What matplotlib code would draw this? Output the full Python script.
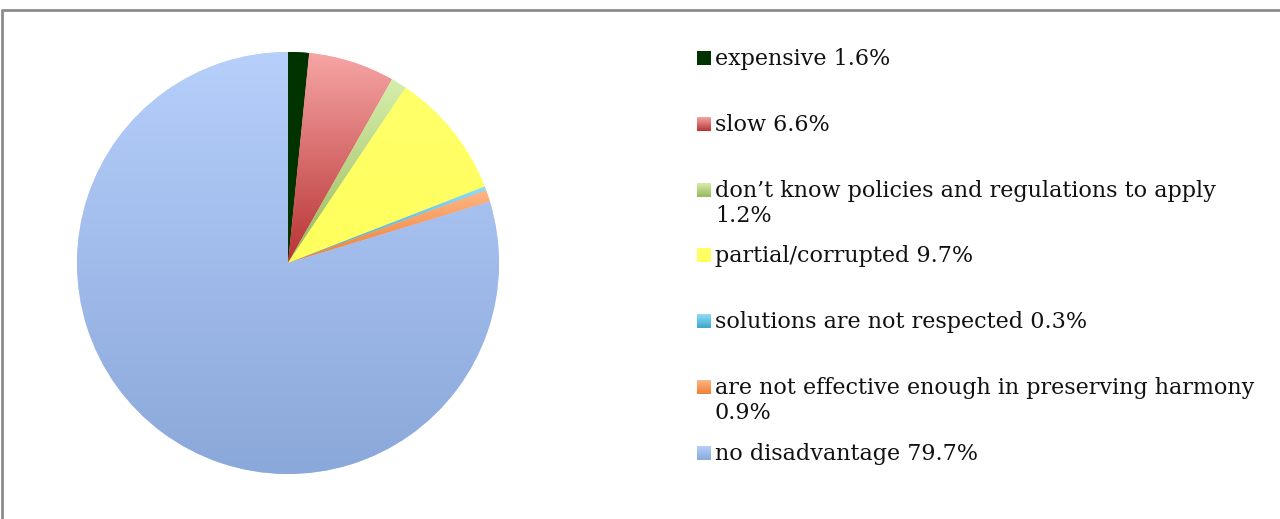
import numpy as np
import matplotlib.pyplot as plt
from matplotlib.colors import to_rgb

# survey answers, percent
labels = ["expensive", "slow", "don't know policies and regulations to apply",
          "partial/corrupted", "solutions are not respected",
          "are not effective enough in preserving harmony", "no disadvantage"]
shares = [1.6, 6.6, 1.2, 9.7, 0.3, 0.9, 79.7]
legend_text = ["expensive 1.6%", "slow 6.6%",
               "don\u2019t know policies and regulations to apply\n1.2%",
               "partial/corrupted 9.7%", "solutions are not respected 0.3%",
               "are not effective enough in preserving harmony\n0.9%",
               "no disadvantage 79.7%"]
# top -> bottom gradient colours per slice
top_cols = ["#003300", "#f6a4a4", "#d6eeaa", "#ffff6a", "#8fdcf6", "#ffb585", "#b6cffb"]
bot_cols = ["#003300", "#b83434", "#98b85c", "#ffff5c", "#3ea6cc", "#ee7f34", "#8ba8da"]

W, H = 1280, 519
fig = plt.figure(figsize=(W / 100, H / 100), dpi=100)
ax = fig.add_axes([0, 0, 1, 1])

cx, cy, r = 288, H - 263, 211
wedges, _ = ax.pie(shares, startangle=90, counterclock=False, radius=r,
                   center=(cx, cy), frame=True,
                   wedgeprops=dict(linewidth=0, edgecolor="none"))


def grad_img(c1, c2, n=64):
    a, b = np.array(to_rgb(c1)), np.array(to_rgb(c2))
    t = np.linspace(0, 1, n)[:, None]
    return (a * (1 - t) + b * t)[:, None, :]


for w, c1, c2 in zip(wedges, top_cols, bot_cols):
    w.set_facecolor(c1)
    bb = w.get_path().get_extents()
    im = ax.imshow(grad_img(c1, c2), extent=[bb.x0, bb.x1, bb.y0, bb.y1],
                   origin="upper", aspect="auto", interpolation="bilinear", zorder=2)
    im.set_clip_path(w)

# legend drawn by hand to get Excel-like spacing
font = dict(family="DejaVu Serif", size=16, color="#111111")
y0, step, line_gap, ms = 58, 65.8, 25, 14
for i, (txt, c1, c2) in enumerate(zip(legend_text, top_cols, bot_cols)):
    yc = y0 + i * step
    ax.imshow(grad_img(c1, c2), extent=[697, 697 + ms, H - (yc + ms / 2), H - (yc - ms / 2)],
              origin="upper", aspect="auto", interpolation="bilinear", zorder=3)
    for k, line in enumerate(txt.split("\n")):
        ax.text(715, H - (yc + 7 + k * line_gap), line, va="baseline", ha="left", **font)

# chart frame (only top and left edge visible)
ax.plot([2, 2, W], [0, H - 10, H - 10], color="#8c8c8c", lw=2, solid_capstyle="butt")

ax.set_xlim(0, W)
ax.set_ylim(0, H)
ax.set_axis_off()
fig.savefig("out.png", dpi=100)
